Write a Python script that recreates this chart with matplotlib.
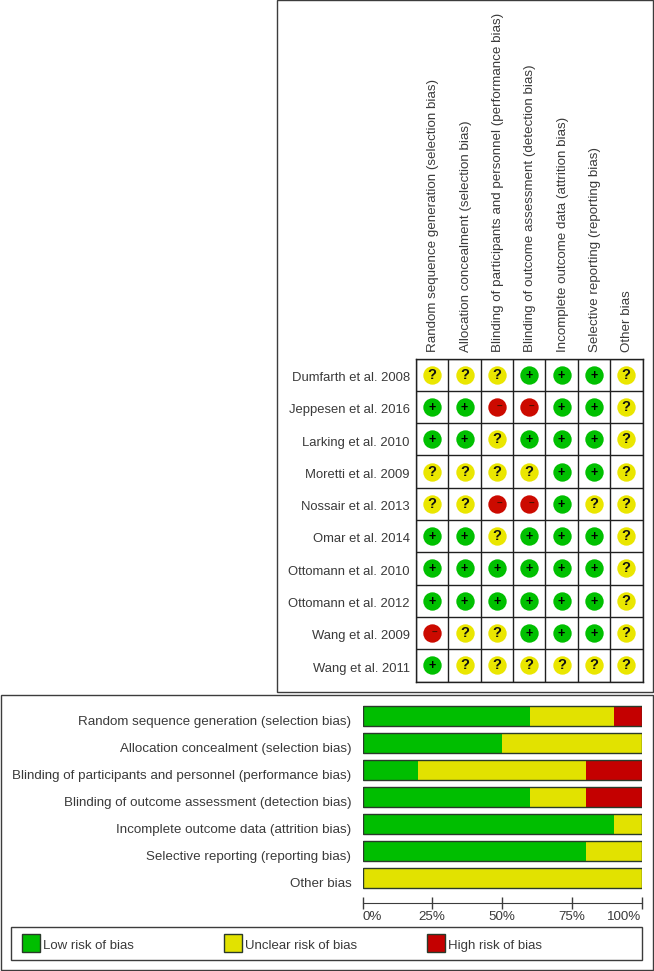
import matplotlib
matplotlib.use("Agg")
from matplotlib import pyplot as plt
from matplotlib.patches import Rectangle

plt.rcParams["font.family"] = ["Liberation Sans", "DejaVu Sans"]

W, H = 654, 971

domains = [
    "Random sequence generation (selection bias)",
    "Allocation concealment (selection bias)",
    "Blinding of participants and personnel (performance bias)",
    "Blinding of outcome assessment (detection bias)",
    "Incomplete outcome data (attrition bias)",
    "Selective reporting (reporting bias)",
    "Other bias",
]
studies = [
    "Dumfarth et al. 2008",
    "Jeppesen et al. 2016",
    "Larking et al. 2010",
    "Moretti et al. 2009",
    "Nossair et al. 2013",
    "Omar et al. 2014",
    "Ottomann et al. 2010",
    "Ottomann et al. 2012",
    "Wang et al. 2009",
    "Wang et al. 2011",
]
# one string per study, one sign per domain
ratings = [
    "???+++?",
    "++--++?",
    "++?+++?",
    "????++?",
    "??--+??",
    "++?+++?",
    "++++++?",
    "++++++?",
    "-??+++?",
    "+??????",
]

low = [60, 50, 20, 60, 90, 80, 0]
unclear = [30, 50, 60, 20, 10, 20, 100]
high = [10, 0, 20, 20, 0, 0, 0]

tick_values = [0, 25, 50, 75, 100]
legend_labels = ["Low risk of bias", "Unclear risk of bias", "High risk of bias"]

green, yellow, red = "#00BE00", "#E2E200", "#C40000"
dot_colors = {"+": "#00C000", "?": "#EAE600", "-": "#CC0A00"}
text_color = "#3A3A3A"
line_color = "#3C3C3C"
fs = 9.6


def px_axes(fig, left, top, right, bottom):
    # axes placed in picture pixels, origin top left
    return fig.add_axes([left / W, 1 - bottom / H, (right - left) / W, (bottom - top) / H])


fig = plt.figure(figsize=(W / 100, H / 100), dpi=100, facecolor="white")


def frame(left, top, right, bottom, lw=1.0):
    fig.add_artist(Rectangle((left / W, 1 - bottom / H), (right - left) / W, (bottom - top) / H,
                             transform=fig.transFigure, fill=False, edgecolor=line_color, linewidth=lw))


frame(276.5, 0.5, 653, 691.5)
frame(0.5, 694.5, 653, 969.5)
frame(10.5, 927, 642, 960)

# risk of bias summary
ax1 = px_axes(fig, 416, 358.5, 642.5, 681.5)
ax1.set_xlim(0, len(domains))
ax1.set_ylim(len(studies), 0)
ax1.set_xticks(range(len(domains) + 1))
ax1.set_yticks(range(len(studies) + 1))
ax1.grid(True, color="#202020", linewidth=1.0)
ax1.tick_params(length=0, labelleft=False, labelbottom=False)
ax1.set_axisbelow(True)
for s in ax1.spines.values():
    s.set_color("#202020")
    s.set_linewidth(1.0)

for r, row in enumerate(ratings):
    ax1.annotate(studies[r], (0, r + 0.5), xytext=(-4.5, -4.5), textcoords="offset points",
                 ha="right", va="baseline", fontsize=9.4, color=text_color)
    for c, sign in enumerate(row):
        ax1.scatter(c + 0.5, r + 0.5, s=175, color=dot_colors[sign], linewidths=0, zorder=3)
        if sign == "?":
            ax1.text(c + 0.5, r + 0.5, "?", ha="center", va="center", fontsize=10.5,
                     fontweight="bold", color="#111111", zorder=4)
        elif sign == "+":
            ax1.text(c + 0.5, r + 0.53, "+", ha="center", va="center", fontsize=9,
                     fontweight="bold", color="#000000", zorder=4)
        else:
            ax1.text(c + 0.57, r + 0.47, "\u2212", ha="center", va="center", fontsize=7,
                     fontweight="bold", color="#501000", zorder=4)

for c, name in enumerate(domains):
    ax1.annotate(name, (c + 0.5, 0), xytext=(0.7, 4.5), textcoords="offset points", rotation=90,
                 ha="center", va="bottom", fontsize=fs, color=text_color)

# risk of bias graph
ax2 = px_axes(fig, 362.5, 699, 641.5, 903)
ax2.set_xlim(0, 100)
ax2.set_ylim(6.926, -0.63)
ys = range(len(domains))
lefts2 = [a + b for a, b in zip(low, unclear)]
ax2.barh(ys, low, height=0.76, color=green, linewidth=0)
ax2.barh(ys, unclear, left=low, height=0.76, color=yellow, linewidth=0)
ax2.barh(ys, high, left=lefts2, height=0.76, color=red, linewidth=0)
ax2.barh(ys, [100] * len(domains), height=0.76, fill=False, edgecolor="#2A3A2A", linewidth=1.0)
for s in ["left", "right", "top"]:
    ax2.spines[s].set_visible(False)
ax2.spines["bottom"].set_color(line_color)
ax2.set_yticks([])
for y, name in zip(ys, domains):
    # labels sit a little below the bar centres
    ax2.annotate(name, (0, y), xytext=(-8, -6.5), textcoords="offset points",
                 ha="right", va="baseline", fontsize=fs, color=text_color)
ax2.set_xticks(tick_values)
ax2.set_xticklabels([f"{v}%" for v in tick_values], fontsize=fs, color=text_color)
ax2.tick_params(axis="x", direction="inout", length=8, width=1, color=line_color, pad=2)
labels = ax2.get_xticklabels()
labels[0].set_ha("left")
labels[-1].set_ha("right")

# legend, drawn in pixel space of the figure
ax3 = px_axes(fig, 10.5, 927, 642, 960)
ax3.set_xlim(10.5, 642)
ax3.set_ylim(960, 927)
ax3.axis("off")
for x0, color, label in zip([22, 224, 427], [green, yellow, red], legend_labels):
    ax3.add_patch(Rectangle((x0, 934), 17.5, 18, facecolor=color, edgecolor="#2A3A2A", linewidth=1.0))
    ax3.text(x0 + 21, 949, label, ha="left", va="baseline", fontsize=9.5, color=text_color)

fig.savefig("out.png", dpi=100)
